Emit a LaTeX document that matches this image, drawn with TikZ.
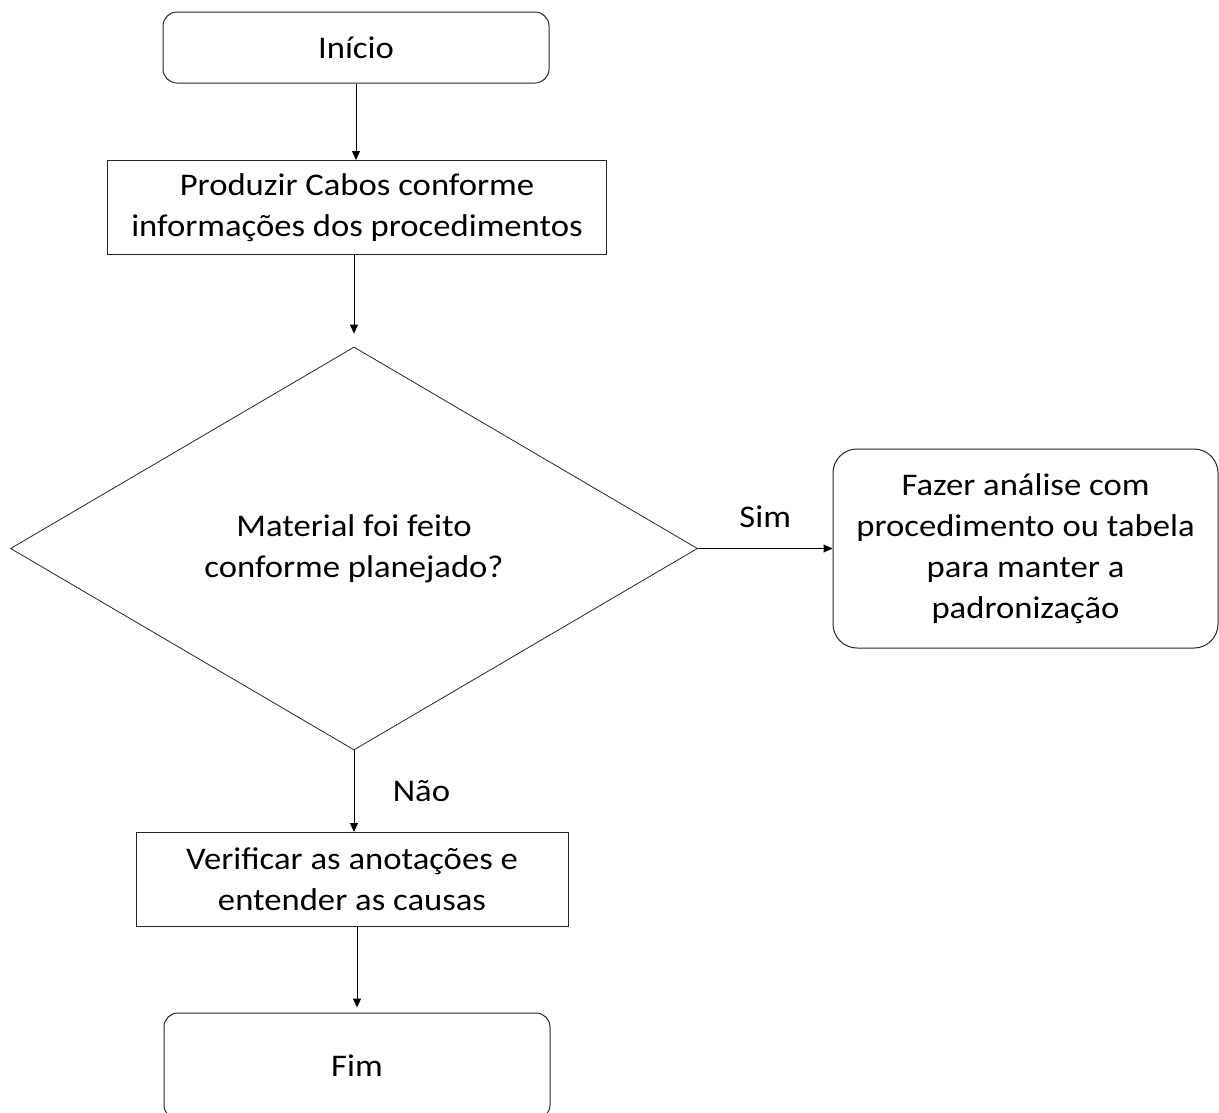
\documentclass[tikz,border=0pt]{standalone}
\usepackage{fontspec}
\setmainfont[FakeStretch=1.1]{Carlito}
\usepackage{tikz}
\usetikzlibrary{shapes, arrows.meta, positioning}
\tikzstyle{startstop} = [rectangle, rounded corners=14pt, minimum width=386pt, minimum height=71pt, text centered, draw=black!85, line width=1pt]
\tikzstyle{process} = [rectangle, minimum height=94pt, text centered, align=center, draw=black!85, line width=1pt]
\tikzstyle{decision} = [diamond, minimum width=687pt, minimum height=403pt, inner sep=0pt, align=center, draw=black!85, line width=0.8pt]
\tikzstyle{result} = [rectangle, rounded corners=24pt, minimum width=385pt, minimum height=199pt, align=center, draw=black!85, line width=1pt]
\tikzstyle{arrow} = [line width=1pt, -{Triangle[length=9pt, width=8pt]}]

\begin{document}
\begin{tikzpicture}[x=1pt, y=1pt, node distance=160pt, font=\fontsize{31.5}{41}\selectfont]
\clip (0,0) rectangle (1219,-1112);
\node (inicio) [startstop] at (356,-47.5) {Início};
\node (produzir) [process, minimum width=499pt, below of=inicio, xshift=1pt] {Produzir Cabos conforme\\informações dos procedimentos};
\node (decisao) [decision, below of=produzir, xshift=-3pt, yshift=-181pt] {Material foi feito\\conforme planejado?};
\node (analise) [result, right of=decisao, xshift=511.5pt] {Fazer análise com\\procedimento ou tabela\\para manter a\\padronização};
\node (verificar) [process, minimum width=432pt, below of=decisao, xshift=-2pt, yshift=-171pt] {Verificar as anotações e\\entender as causas};
\node (fim) [startstop, minimum height=106pt, below of=verificar, xshift=5pt, yshift=-26.5pt] {Fim};
\draw[arrow] (inicio.south) -- (inicio.south |- produzir.north);
\draw[arrow, shorten >=13pt] (decisao.north |- produzir.south) -- (decisao.north);
\draw[arrow] (decisao.east) -- (analise.west) node[midway, above=17pt] {Sim};
\draw[arrow] (decisao.south) -- (decisao.south |- verificar.north) node[midway, right=35pt] {Não};
\draw[arrow, shorten >=5pt] (fim.north |- verificar.south) -- (fim.north);
\end{tikzpicture}
\end{document}
